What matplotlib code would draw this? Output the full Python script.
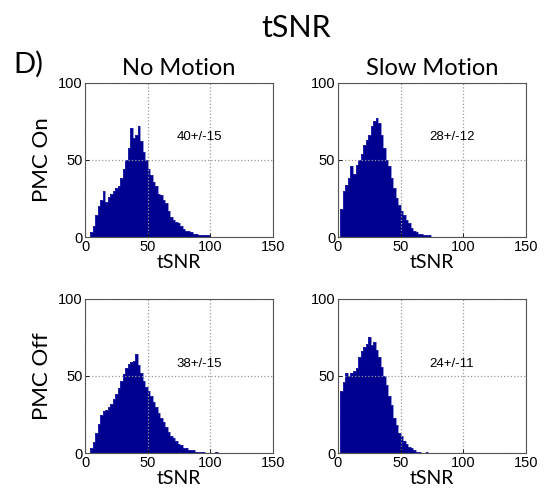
import numpy as np
import matplotlib
matplotlib.use("Agg")
import matplotlib.pyplot as plt

# histogram counts, 2-unit bins starting at 0
bin_width = 2
on_none = [0, 0, 3, 7, 14, 20, 24, 30, 23, 26, 28, 30, 32, 33, 38, 44, 50, 58, 71, 64,
           66, 72, 62, 55, 50, 44, 40, 36, 33, 28, 27, 24, 22, 17, 13, 11, 10, 9, 7, 5,
           4, 4, 3, 2, 2, 1, 1, 1, 1, 1]
on_slow = [0, 18, 30, 34, 38, 46, 41, 47, 50, 54, 60, 63, 66, 72, 75, 77, 74, 66, 58, 50,
           46, 38, 32, 25, 21, 17, 14, 11, 9, 6, 4, 3, 2, 2, 1, 1, 1]
off_none = [0, 0, 3, 7, 13, 19, 25, 27, 28, 30, 32, 35, 38, 42, 47, 51, 55, 58, 59, 60,
            64, 57, 52, 47, 43, 40, 37, 33, 30, 26, 23, 20, 17, 14, 11, 10, 8, 6, 5, 3,
            3, 2, 2, 2, 1, 1, 1, 1, 0, 0, 0, 0, 1, 0]
off_slow = [0, 40, 46, 52, 50, 52, 53, 55, 62, 66, 69, 71, 75, 70, 72, 67, 62, 56, 50, 44,
            37, 31, 23, 18, 13, 11, 8, 6, 4, 3, 2, 1, 1, 0, 0, 1]

stats = [["40+/-15", "28+/-12"], ["38+/-15", "24+/-11"]]
col_titles = ["No Motion", "Slow Motion"]
row_labels = ["PMC On", "PMC Off"]
xticks = [0, 50, 100, 150]
yticks = [0, 50, 100]

data = [[on_none, on_slow], [off_none, off_slow]]
stat_y = [65, 58]

title_font = ["Lato", "DejaVu Sans"]
tick_font = ["Liberation Sans", "DejaVu Sans"]
bar_color = "#000090"

fig = plt.figure(figsize=(5.46, 4.99), dpi=100)

lefts = [0.156, 0.619]
bottoms = [0.525, 0.092]
w, h = 0.344, 0.309

for r in range(2):
    for c in range(2):
        ax = fig.add_axes([lefts[c], bottoms[r], w, h])
        counts = np.array(data[r][c], dtype=float)
        edges = np.arange(len(counts) + 1) * bin_width
        ax.stairs(counts, edges, fill=True, color=bar_color, linewidth=0)
        ax.stairs(counts, edges, fill=False, color="#3838b8", linewidth=0.4)
        ax.set_xlim(0, 150)
        ax.set_ylim(0, 100)
        ax.set_xticks(xticks)
        ax.set_yticks(yticks)
        ax.grid(True, linestyle=":", color="#999999", linewidth=0.9)
        ax.tick_params(direction="in", length=3, width=0.6, labelsize=10.5, pad=2)
        for lab in ax.get_xticklabels() + ax.get_yticklabels():
            lab.set_family(tick_font)
        for sp in ax.spines.values():
            sp.set_color("#555555")
            sp.set_linewidth(0.8)
        ax.set_xlabel("tSNR", family=title_font, fontsize=14, labelpad=0)
        ax.text(91, stat_y[r], stats[r][c], ha="center", va="center",
                fontsize=9.5, family=tick_font)
        if r == 0:
            ax.set_title(col_titles[c], family=title_font, fontsize=17, pad=6)
        if c == 0:
            ax.set_ylabel(row_labels[r], family=title_font, fontsize=16, labelpad=4)

fig.text(0.542, 0.944, "tSNR", ha="center", va="center", family=title_font, fontsize=22)
fig.text(0.024, 0.872, "D)", ha="left", va="center", family=title_font, fontsize=21)

fig.savefig("out.png", dpi=100)
